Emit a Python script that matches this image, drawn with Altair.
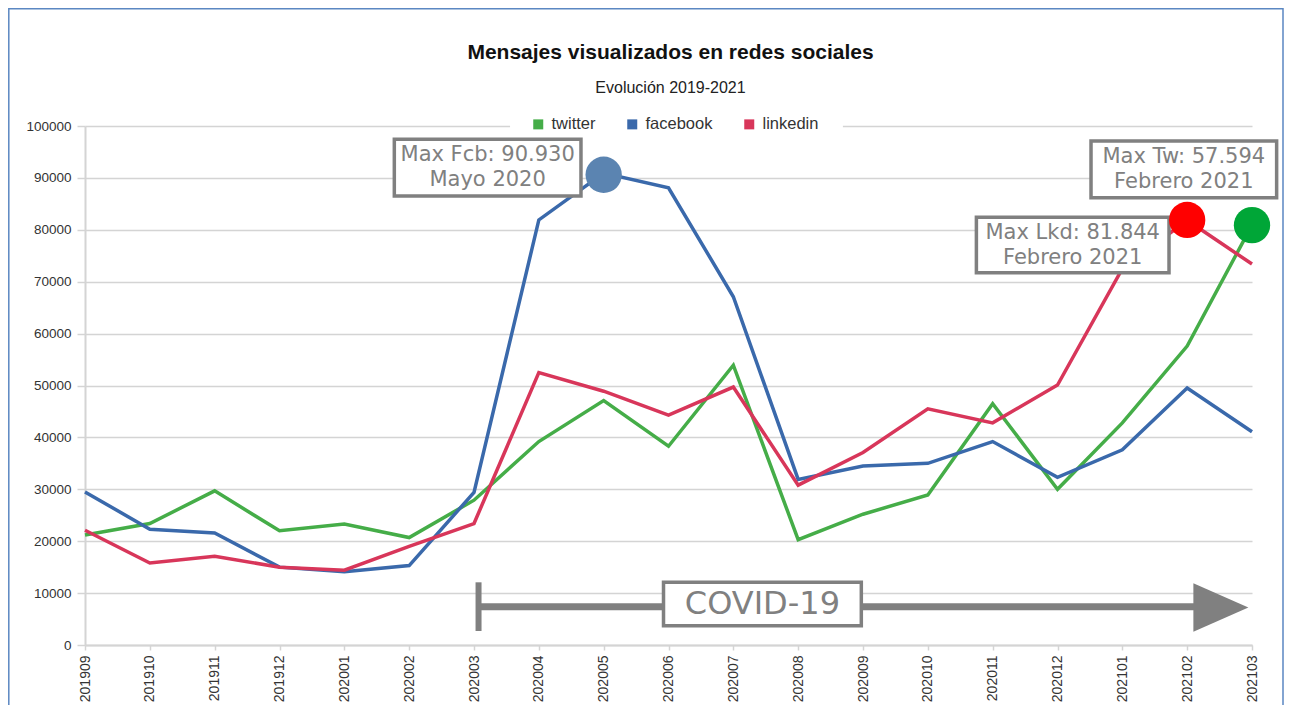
import altair as alt
import pandas as pd

# ---------------- data ----------------
months = ["201909", "201910", "201911", "201912", "202001", "202002", "202003",
          "202004", "202005", "202006", "202007", "202008", "202009", "202010",
          "202011", "202012", "202101", "202102", "202103"]
twitter = [21200, 23400, 29700, 22000, 23300, 20700, 27900, 39200, 47100, 38300,
           53900, 20300, 25200, 28900, 46500, 30000, 42800, 57594, 80900]
facebook = [29500, 22300, 21600, 15000, 14100, 15300, 29400, 81900, 90930, 88100,
            67100, 31900, 34500, 35000, 39200, 32300, 37600, 49500, 41100]
linkedin = [22100, 15800, 17100, 15000, 14400, 19000, 23400, 52500, 48900, 44300,
            49700, 30800, 37100, 45500, 42800, 50100, 72500, 81844, 73400]
series_names = ["twitter", "facebook", "linkedin"]
series_colors = ["#45ad48", "#3a69ab", "#d8365a"]
y_ticks = [0, 10000, 20000, 30000, 40000, 50000, 60000, 70000, 80000, 90000, 100000]

# highlighted maxima (circles)
marker_months = ["202005", "202102", "202103"]
marker_values = [90600, 81900, 80900]
marker_colors = ["#5b84b1", "#ff0000", "#00a637"]

# annotation boxes (x in month-index units, y in data units)
box_texts = ["Max Fcb: 90.930\nMayo 2020", "Max Lkd: 81.844\nFebrero 2021",
             "Max Tw: 57.594\nFebrero 2021"]
box_x1 = [4.771, 13.749, 15.517]
box_x2 = [7.650, 16.720, 18.380]
box_y1 = [86510, 71730, 86190]
box_y2 = [97440, 82410, 97110]

# COVID-19 arrow
covid_text = ["COVID-19"]
covid_x1 = [8.923]
covid_x2 = [11.974]
covid_y1 = [3720]
covid_y2 = [12080]
arrow_x = [6.07, 17.30]
arrow_y = [7380]
bar_y = [2700, 12080]
head_x = [17.52]
head_y = [7230]

# legend gap on the top gridline
gap_x = [6.556, 11.69]
gap_y = [100000]

# ---------------- tables ----------------
rows = []
for name, vals in zip(series_names, [twitter, facebook, linkedin]):
    for i, (m, v) in enumerate(zip(months, vals)):
        rows.append({"mes": m, "idx": i, "serie": name, "valor": v})
df = pd.DataFrame(rows)

df_mark = pd.DataFrame({"mes": marker_months,
                        "idx": [months.index(m) for m in marker_months],
                        "valor": marker_values, "col": marker_colors})
df_box = pd.DataFrame({"t": box_texts, "x1": box_x1, "x2": box_x2, "y1": box_y1, "y2": box_y2})
df_box["xc"] = (df_box.x1 + df_box.x2) / 2
df_box["yc"] = (df_box.y1 + df_box.y2) / 2
df_cov = pd.DataFrame({"t": covid_text, "x1": covid_x1, "x2": covid_x2, "y1": covid_y1, "y2": covid_y2})
df_cov["xc"] = (df_cov.x1 + df_cov.x2) / 2
df_cov["yc"] = (df_cov.y1 + df_cov.y2) / 2
df_arrow = pd.DataFrame({"x1": [arrow_x[0]], "x2": [arrow_x[1]], "y": arrow_y})
df_bar = pd.DataFrame({"x": [arrow_x[0]], "y1": [bar_y[0]], "y2": [bar_y[1]]})
df_head = pd.DataFrame({"x": head_x, "y": head_y})
df_gap = pd.DataFrame({"x1": [gap_x[0]], "x2": [gap_x[1]], "y": gap_y})

W, H = 1167, 519
GRID = "#d4d4d4"
GRAY = "#808080"

label_expr = "[" + ",".join("'%s'" % m for m in months) + "][datum.value]"

yscale = alt.Scale(domain=[0, 100000], nice=False, zero=True)
xscale = alt.Scale(domain=[0, len(months) - 1], nice=False, zero=False)

y_axis = alt.Axis(values=y_ticks, format="d", title=None, orient="left",
                  grid=True, gridColor=GRID, gridWidth=1.5,
                  domainColor=GRID, domainWidth=2, tickColor=GRID, tickSize=8, tickWidth=1.5,
                  labelFontSize=13.5, labelColor="#333333", labelPadding=6,
                  labelFont="Liberation Sans")
x_axis = alt.Axis(values=list(range(len(months))), labelExpr=label_expr, title=None,
                  orient="bottom", labelAngle=270, labelFontSize=14, labelColor="#333333",
                  labelFont="Liberation Sans", labelPadding=5, domainColor=GRID,
                  domainWidth=2, tickColor=GRID, tickSize=5, tickWidth=1.5, grid=False,
                  labelOverlap=False, labelBound=False)


def X(f):
    return alt.X(f, scale=xscale, axis=x_axis)


def Y(f):
    return alt.Y(f, scale=yscale, axis=y_axis)


lines = alt.Chart(df).mark_line(strokeWidth=3.5).encode(
    x=X("idx:Q"), y=Y("valor:Q"),
    color=alt.Color("serie:N", scale=alt.Scale(domain=series_names, range=series_colors),
                    legend=alt.Legend(orient="none", legendX=445, legendY=-10,
                                      direction="horizontal", title=None,
                                      symbolType="square", symbolSize=25,
                                      symbolStrokeWidth=5, labelFontSize=16.5,
                                      labelFont="Liberation Sans", labelColor="#333333",
                                      labelOffset=5, columnPadding=23, padding=0)),
    detail=alt.Detail("serie:N"),
)

gap = alt.Chart(df_gap).mark_rule(color="white", strokeWidth=4).encode(
    x=X("x1:Q"), x2="x2:Q", y=Y("y:Q"))

arrow = alt.Chart(df_arrow).mark_rule(color=GRAY, strokeWidth=7).encode(
    x=X("x1:Q"), x2="x2:Q", y=Y("y:Q"))
bar = alt.Chart(df_bar).mark_rule(color=GRAY, strokeWidth=6).encode(
    x=X("x:Q"), y=Y("y1:Q"), y2="y2:Q")
head = alt.Chart(df_head).mark_point(
    shape="M -1 -0.88 L 1 0 L -1 0.88 Z", size=3025, filled=True,
    fill=GRAY, opacity=1, strokeWidth=0).encode(x=X("x:Q"), y=Y("y:Q"))

cov_box = alt.Chart(df_cov).mark_rect(fill="white", stroke=GRAY, strokeWidth=3.5).encode(
    x=X("x1:Q"), x2="x2:Q", y=Y("y1:Q"), y2="y2:Q")
cov_txt = alt.Chart(df_cov).mark_text(font="DejaVu Sans", fontSize=32, color=GRAY,
                                      baseline="middle", align="center").encode(
    x=X("xc:Q"), y=Y("yc:Q"), text="t:N")

boxes = alt.Chart(df_box).mark_rect(fill="white", stroke=GRAY, strokeWidth=3.5).encode(
    x=X("x1:Q"), x2="x2:Q", y=Y("y1:Q"), y2="y2:Q")
box_txt = alt.Chart(df_box).mark_text(font="DejaVu Sans", fontSize=21, color=GRAY,
                                      baseline="middle", align="center", dy=-12.5,
                                      lineBreak="\n", lineHeight=25).encode(
    x=X("xc:Q"), y=Y("yc:Q"), text="t:N")

markers = alt.Chart(df_mark).mark_circle(size=1320, opacity=1).encode(
    x=X("idx:Q"), y=Y("valor:Q"), fill=alt.Fill("col:N", scale=None))

# outer chart frame (decorative)
frame = alt.Chart(df_gap).mark_rect(fill=None, stroke="#5b87c2", strokeWidth=1.5).encode(
    x=alt.value(-76.2), x2=alt.value(1198), y=alt.value(-117.2), y2=alt.value(640))

chart = alt.layer(lines, gap, arrow, bar, head, cov_box, cov_txt, boxes, box_txt,
                  markers, frame).properties(
    width=W, height=H,
    padding={"left": 77, "top": 118, "right": 32, "bottom": 60},
    autosize=alt.AutoSizeParams(type="none"),
    title=alt.TitleParams("Mensajes visualizados en redes sociales",
                          subtitle="Evolución 2019-2021",
                          font="Liberation Sans", fontSize=21, fontWeight="bold",
                          color="#111111", subtitleFont="Liberation Sans",
                          subtitleFontSize=16, subtitleColor="#222222",
                          subtitlePadding=17, anchor="middle", frame="group",
                          offset=-88, dx=2),
).configure(font="Liberation Sans").configure_view(stroke="transparent", strokeWidth=0)

chart.save("out.html", embed_options={"renderer": "svg", "actions": False})
